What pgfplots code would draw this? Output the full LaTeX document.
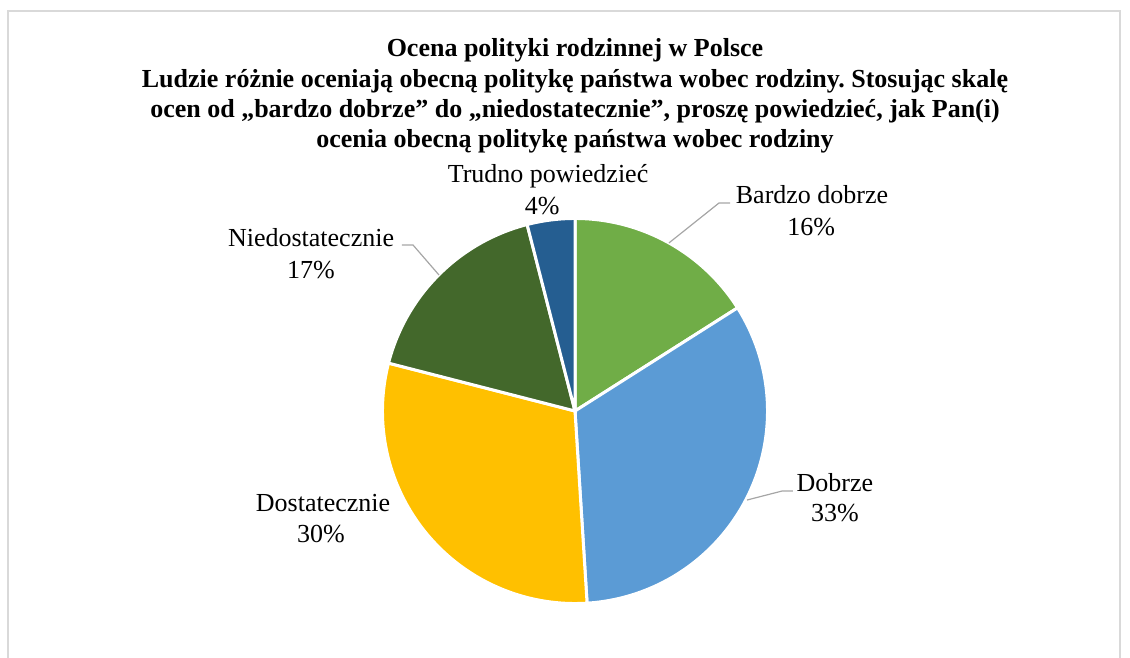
\documentclass[border=0pt]{standalone}
\usepackage{pgfplots}
\pgfplotsset{compat=1.18}
\usepackage{fontspec}
\setmainfont{Liberation Serif}
\frenchspacing
\definecolor{cA}{HTML}{70AD47}
\definecolor{cB}{HTML}{5B9BD5}
\definecolor{cC}{HTML}{FFC000}
\definecolor{cD}{HTML}{43682B}
\definecolor{cE}{HTML}{255E91}
\definecolor{frame}{HTML}{D9D9D9}
\definecolor{lead}{HTML}{A6A6A6}
\tikzset{lbl/.style={font=\fontsize{26}{31}\selectfont, inner sep=0pt, anchor=base}}
\begin{document}
\begin{tikzpicture}
\useasboundingbox (0pt,0pt) rectangle (1130pt,657pt);
\draw[frame, line width=1.5pt] (8pt,-5pt) -- (8pt,646pt) -- (1120pt,646pt) -- (1120pt,-5pt);
\begin{scope}[font=\fontsize{26}{31}\selectfont\bfseries]
\node[anchor=base, inner sep=0pt] at (575pt,600pt) {Ocena polityki rodzinnej w Polsce};
\node[anchor=base, inner sep=0pt] at (575pt,569pt) {Ludzie różnie oceniają obecną politykę państwa wobec rodziny. Stosując skalę};
\node[anchor=base, inner sep=0pt] at (575pt,539pt) {ocen od „bardzo dobrze” do „niedostatecznie”, proszę powiedzieć, jak Pan(i)};
\node[anchor=base, inner sep=0pt] at (575pt,509pt) {ocenia obecną politykę państwa wobec rodziny};
\end{scope}
\begin{axis}[at={(575pt,246pt)}, anchor=center, width=382pt, height=382pt, scale only axis,
  xmin=-1, xmax=1, ymin=-1, ymax=1, hide axis, clip=false]
% slices: Bardzo dobrze 16%, Dobrze 33%, Dostatecznie 30%, Niedostatecznie 17%, Trudno powiedziec 4% (clockwise from top)
\addplot[data cs=polar, fill=cA, draw=white, line width=3pt, domain=32.4:90, samples=60] (x,1.008) -- (axis cs:0,0) -- cycle;
\addplot[data cs=polar, fill=cB, draw=white, line width=3pt, domain=-86.4:32.4, samples=100] (x,1.008) -- (axis cs:0,0) -- cycle;
\addplot[data cs=polar, fill=cC, draw=white, line width=3pt, domain=-194.4:-86.4, samples=100] (x,1.008) -- (axis cs:0,0) -- cycle;
\addplot[data cs=polar, fill=cD, draw=white, line width=3pt, domain=-255.6:-194.4, samples=60] (x,1.008) -- (axis cs:0,0) -- cycle;
\addplot[data cs=polar, fill=cE, draw=white, line width=3pt, domain=-270:-255.6, samples=20] (x,1.008) -- (axis cs:0,0) -- cycle;
% leader lines
\addplot[lead, line width=1.2pt, no marks] coordinates {(0.492,0.880) (0.754,1.089) (0.812,1.089)};
\addplot[lead, line width=1.2pt, no marks] coordinates {(-0.712,0.712) (-0.848,0.869) (-0.906,0.869)};
\addplot[lead, line width=1.2pt, no marks] coordinates {(0.901,-0.466) (1.084,-0.419) (1.141,-0.419)};
% labels
\node[lbl] at (axis cs:-0.141,1.194) {Trudno powiedzieć};
\node[lbl] at (axis cs:-0.172,1.031) {4\%};
\node[lbl] at (axis cs:1.241,1.089) {Bardzo dobrze};
\node[lbl] at (axis cs:1.236,0.921) {16\%};
\node[lbl] at (axis cs:-1.382,0.859) {Niedostatecznie};
\node[lbl] at (axis cs:-1.382,0.696) {17\%};
\node[lbl] at (axis cs:-1.319,-0.524) {Dostatecznie};
\node[lbl] at (axis cs:-1.330,-0.686) {30\%};
\node[lbl] at (axis cs:1.361,-0.419) {Dobrze};
\node[lbl] at (axis cs:1.361,-0.581) {33\%};
\end{axis}
\end{tikzpicture}
\end{document}
